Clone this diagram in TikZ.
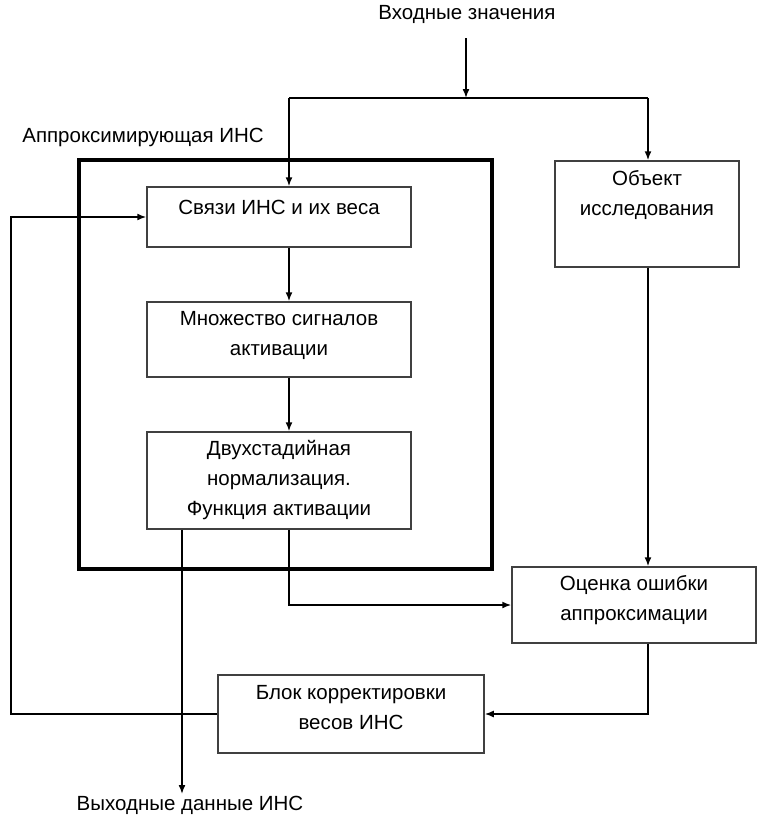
\documentclass[tikz,border=0pt]{standalone}
\usepackage{fontspec}
\setmainfont{Liberation Sans}
\usetikzlibrary{arrows.meta}
\begin{document}
\begin{tikzpicture}[x=1pt,y=-1pt,
  box/.style={draw=black!75, line width=1.5pt, inner sep=0pt},
  annbox/.style={draw=black, line width=3.2pt, inner sep=0pt},
  txt/.style={align=center, inner sep=0pt, font=\fontsize{20.5}{30}\selectfont, text=black},
  conn/.style={draw=black, line width=1.6pt},
  arr/.style={conn, -{Latex[length=9pt,width=7pt]}}]
\useasboundingbox (0,0) rectangle (764,817);
% outer ANN frame
\node[annbox, minimum width=413pt, minimum height=409pt] (ann) at (285.5,364.5) {};
\node[txt] (annlbl) at (143,137) {Аппроксимирующая ИНС};
% boxes
\node[box, minimum width=264pt, minimum height=60pt] (b1) at (279,217) {};
\node[txt] (t1) at (279,207) {Связи ИНС и их веса};
\node[box, minimum width=264pt, minimum height=75pt] (b2) at (279,339.5) {};
\node[txt] (t2) at (279,335) {Множество сигналов\\активации};
\node[box, minimum width=264pt, minimum height=97pt] (b3) at (279,480.5) {};
\node[txt] (t3) at (279,480) {Двухстадийная\\нормализация.\\Функция активации};
\node[box, minimum width=184pt, minimum height=106pt] (obj) at (647,214) {};
\node[txt] (tobj) at (647,195) {Объект\\исследования};
\node[box, minimum width=244pt, minimum height=76pt] (est) at (634,605) {};
\node[txt] (test) at (634,600) {Оценка ошибки\\аппроксимации};
\node[box, minimum width=266pt, minimum height=78pt] (blok) at (351,714) {};
\node[txt] (tblok) at (351,708) {Блок корректировки\\весов ИНС};
% labels
\node[txt] (inlbl) at (467,14) {Входные значения};
\node[txt] (outlbl) at (190,805) {Выходные данные ИНС};
% coordinates
\coordinate (j) at (466,98);
\coordinate (cx) at (289,0);
\coordinate (cr) at (648,0);
\coordinate (co) at (182,0);
\coordinate (fb) at (11,0);
\coordinate (outend) at (182,794);
\coordinate (instart) at (466,38);
% connectors
\draw[arr] (instart) -- (j);
\draw[conn] (j) -- (j -| cx);
\draw[conn] (j) -- (j -| cr);
\draw[arr] (j -| cx) -- (b1.north -| cx);
\draw[arr] (j -| cr) -- (obj.north -| cr);
\draw[arr] (b1.south -| cx) -- (b2.north -| cx);
\draw[arr] (b2.south -| cx) -- (b3.north -| cx);
\draw[arr] (b3.south -| cx) |- (est.west);
\draw[arr] (obj.south -| cr) -- (est.north -| cr);
\draw[arr] (est.south -| cr) |- (blok.east);
\draw[arr] (blok.west) -- (blok.west -| fb) -- (b1.west -| fb) -- (b1.west);
\draw[arr] (b3.south -| co) -- (outend);
\end{tikzpicture}
\end{document}
